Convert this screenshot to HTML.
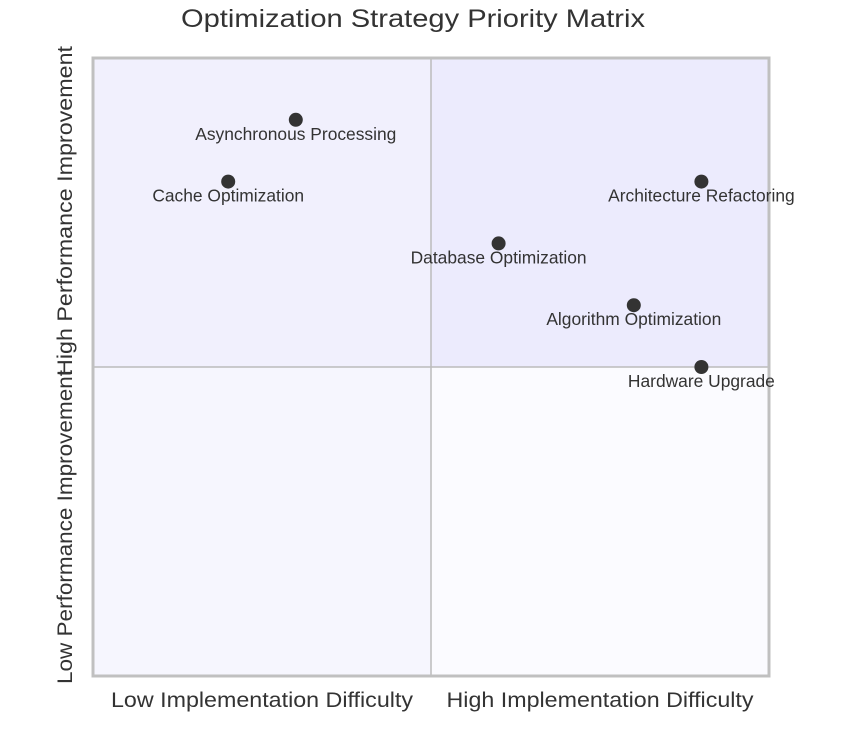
<!DOCTYPE html>
<html><head><meta charset="utf-8"><style>
body{margin:0;background:#fff;font-family:"Liberation Sans",sans-serif}
</style></head><body>
<svg width="846" height="734" xmlns="http://www.w3.org/2000/svg">
<text x="413" y="27" text-anchor="middle" font-size="25" textLength="464" lengthAdjust="spacingAndGlyphs" fill="#333">Optimization Strategy Priority Matrix</text>
<rect x="93" y="58" width="338" height="309" fill="#F1F0FD"/>
<rect x="431" y="58" width="338" height="309" fill="#ECEBFD"/>
<rect x="93" y="367" width="338" height="309" fill="#F6F6FE"/>
<rect x="431" y="367" width="338" height="309" fill="#FBFBFF"/>
<line x1="431" y1="58" x2="431" y2="676" stroke="#bbb" stroke-width="1.5"/>
<line x1="93" y1="367" x2="769" y2="367" stroke="#bbb" stroke-width="1.5"/>
<rect x="93" y="58" width="676" height="618" fill="none" stroke="#c0c0c0" stroke-width="3"/>
<text x="262" y="707" text-anchor="middle" font-size="21" textLength="302" lengthAdjust="spacingAndGlyphs" fill="#333">Low Implementation Difficulty</text>
<text x="600" y="707" text-anchor="middle" font-size="21" textLength="307" lengthAdjust="spacingAndGlyphs" fill="#333">High Implementation Difficulty</text>
<text transform="translate(72,527) rotate(-90)" text-anchor="middle" font-size="21" textLength="314" lengthAdjust="spacingAndGlyphs" fill="#333">Low Performance Improvement</text>
<text transform="translate(72,211) rotate(-90)" text-anchor="middle" font-size="21" textLength="330" lengthAdjust="spacingAndGlyphs" fill="#333">High Performance Improvement</text>
<g id="pts"></g>
</svg>
<script>
const names=["Asynchronous Processing","Cache Optimization","Architecture Refactoring","Database Optimization","Algorithm Optimization","Hardware Upgrade"];
const xs=[0.30,0.20,0.90,0.60,0.80,0.90];
const ys=[0.90,0.80,0.80,0.70,0.60,0.50];
const X=v=>93+v*676, Y=v=>676-v*618;
const g=document.getElementById('pts'),NS="http://www.w3.org/2000/svg";
names.forEach((n,i)=>{
 const c=document.createElementNS(NS,'circle');
 c.setAttribute('cx',X(xs[i]));c.setAttribute('cy',Y(ys[i]));c.setAttribute('r',7);c.setAttribute('fill','#333');
 
 
 g.appendChild(c);
 const t=document.createElementNS(NS,'text');
 t.setAttribute('x',X(xs[i]));t.setAttribute('y',Y(ys[i])+20);t.setAttribute('text-anchor','middle');
 t.setAttribute('font-size','17.4');t.setAttribute('fill','#333');t.textContent=n;
 
 
 g.appendChild(t);
});
</script>
</body></html>
